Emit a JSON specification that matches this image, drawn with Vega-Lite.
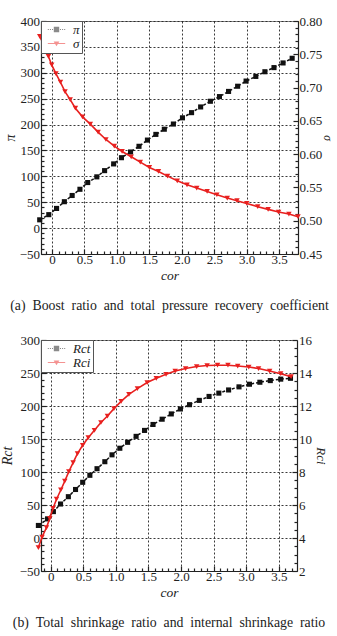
{
  "$schema": "https://vega.github.io/schema/vega-lite/v6.json",
  "background": "white",
  "padding": {"left": 0, "top": 14, "right": 0, "bottom": 2},
  "spacing": 20,
  "resolve": {"scale": {"color": "independent", "shape": "independent"}},
  "config": {
    "font": "Liberation Serif",
    "view": {"stroke": "#8a8a8a", "strokeWidth": 1},
    "axis": {
      "labelFont": "Liberation Serif", "labelFontSize": 13, "labelColor": "#222",
      "titleFont": "Liberation Serif", "titleFontSize": 14, "titleFontStyle": "italic", "titleFontWeight": "normal", "titleColor": "#222",
      "domainColor": "#222", "domainWidth": 1.2, "tickColor": "#222", "tickWidth": 1.2,
      "gridColor": "#222", "gridDash": [2, 2], "gridWidth": 0.9,
      "labelPadding": 6.5, "titlePadding": 2, "labelOverlap": false, "labelFlush": false
    },
    "title": {"font": "Liberation Serif", "fontSize": 13.8, "fontWeight": "normal", "color": "#222", "orient": "bottom", "anchor": "middle", "offset": 16.5}
  },
  "datasets": {
    "a": [
      {"s": "π", "x": -0.19, "v": 16}, {"s": "π", "x": -0.05, "v": 26}, {"s": "π", "x": 0.07, "v": 38}, {"s": "π", "x": 0.19, "v": 51},
      {"s": "π", "x": 0.31, "v": 63}, {"s": "π", "x": 0.43, "v": 75}, {"s": "π", "x": 0.55, "v": 88}, {"s": "π", "x": 0.69, "v": 99},
      {"s": "π", "x": 0.81, "v": 111}, {"s": "π", "x": 0.95, "v": 124}, {"s": "π", "x": 1.07, "v": 136}, {"s": "π", "x": 1.21, "v": 147},
      {"s": "π", "x": 1.34, "v": 158}, {"s": "π", "x": 1.47, "v": 170}, {"s": "π", "x": 1.6, "v": 181}, {"s": "π", "x": 1.73, "v": 191},
      {"s": "π", "x": 1.87, "v": 201}, {"s": "π", "x": 2.01, "v": 213}, {"s": "π", "x": 2.15, "v": 223}, {"s": "π", "x": 2.29, "v": 234},
      {"s": "π", "x": 2.44, "v": 245}, {"s": "π", "x": 2.58, "v": 254}, {"s": "π", "x": 2.72, "v": 264}, {"s": "π", "x": 2.86, "v": 274},
      {"s": "π", "x": 2.99, "v": 284}, {"s": "π", "x": 3.14, "v": 293}, {"s": "π", "x": 3.28, "v": 302}, {"s": "π", "x": 3.42, "v": 310},
      {"s": "π", "x": 3.56, "v": 319}, {"s": "π", "x": 3.7, "v": 328},
      {"s": "σ", "x": -0.19, "v": 0.777}, {"s": "σ", "x": -0.12, "v": 0.763}, {"s": "σ", "x": -0.056, "v": 0.747}, {"s": "σ", "x": -0.005, "v": 0.734},
      {"s": "σ", "x": 0.06, "v": 0.721}, {"s": "σ", "x": 0.13, "v": 0.708}, {"s": "σ", "x": 0.2, "v": 0.694}, {"s": "σ", "x": 0.28, "v": 0.682},
      {"s": "σ", "x": 0.36, "v": 0.669}, {"s": "σ", "x": 0.47, "v": 0.656}, {"s": "σ", "x": 0.59, "v": 0.645}, {"s": "σ", "x": 0.71, "v": 0.633},
      {"s": "σ", "x": 0.83, "v": 0.622}, {"s": "σ", "x": 0.96, "v": 0.612}, {"s": "σ", "x": 1.08, "v": 0.604}, {"s": "σ", "x": 1.22, "v": 0.596},
      {"s": "σ", "x": 1.36, "v": 0.588}, {"s": "σ", "x": 1.5, "v": 0.58}, {"s": "σ", "x": 1.64, "v": 0.574}, {"s": "σ", "x": 1.78, "v": 0.567},
      {"s": "σ", "x": 1.93, "v": 0.56}, {"s": "σ", "x": 2.08, "v": 0.554}, {"s": "σ", "x": 2.23, "v": 0.549}, {"s": "σ", "x": 2.39, "v": 0.544},
      {"s": "σ", "x": 2.54, "v": 0.539}, {"s": "σ", "x": 2.7, "v": 0.534}, {"s": "σ", "x": 2.85, "v": 0.53}, {"s": "σ", "x": 3.0, "v": 0.526},
      {"s": "σ", "x": 3.17, "v": 0.521}, {"s": "σ", "x": 3.33, "v": 0.517}, {"s": "σ", "x": 3.49, "v": 0.513}, {"s": "σ", "x": 3.65, "v": 0.51},
      {"s": "σ", "x": 3.79, "v": 0.506}
    ],
    "b": [
      {"s": "Rct", "x": -0.19, "v": 19}, {"s": "Rct", "x": -0.05, "v": 29}, {"s": "Rct", "x": 0.04, "v": 40}, {"s": "Rct", "x": 0.15, "v": 51.5},
      {"s": "Rct", "x": 0.27, "v": 62.6}, {"s": "Rct", "x": 0.38, "v": 73.5}, {"s": "Rct", "x": 0.49, "v": 84.4}, {"s": "Rct", "x": 0.6, "v": 95},
      {"s": "Rct", "x": 0.71, "v": 105}, {"s": "Rct", "x": 0.83, "v": 115.6}, {"s": "Rct", "x": 0.94, "v": 126}, {"s": "Rct", "x": 1.06, "v": 136},
      {"s": "Rct", "x": 1.18, "v": 145}, {"s": "Rct", "x": 1.31, "v": 154}, {"s": "Rct", "x": 1.44, "v": 163}, {"s": "Rct", "x": 1.57, "v": 172},
      {"s": "Rct", "x": 1.71, "v": 180}, {"s": "Rct", "x": 1.85, "v": 188}, {"s": "Rct", "x": 1.99, "v": 195.5}, {"s": "Rct", "x": 2.13, "v": 202},
      {"s": "Rct", "x": 2.28, "v": 208.5}, {"s": "Rct", "x": 2.43, "v": 214.5}, {"s": "Rct", "x": 2.58, "v": 219.5}, {"s": "Rct", "x": 2.73, "v": 224.3},
      {"s": "Rct", "x": 2.89, "v": 229}, {"s": "Rct", "x": 3.05, "v": 233}, {"s": "Rct", "x": 3.21, "v": 236}, {"s": "Rct", "x": 3.37, "v": 238.5},
      {"s": "Rct", "x": 3.53, "v": 240.7}, {"s": "Rct", "x": 3.68, "v": 242},
      {"s": "Rci", "x": -0.19, "v": 3.42}, {"s": "Rci", "x": -0.134, "v": 4.06}, {"s": "Rci", "x": -0.066, "v": 4.63}, {"s": "Rci", "x": -0.015, "v": 5.19},
      {"s": "Rci", "x": 0.035, "v": 5.8}, {"s": "Rci", "x": 0.088, "v": 6.35}, {"s": "Rci", "x": 0.154, "v": 6.91}, {"s": "Rci", "x": 0.215, "v": 7.45},
      {"s": "Rci", "x": 0.277, "v": 8.02}, {"s": "Rci", "x": 0.343, "v": 8.57}, {"s": "Rci", "x": 0.41, "v": 9.12}, {"s": "Rci", "x": 0.49, "v": 9.62},
      {"s": "Rci", "x": 0.575, "v": 10.08}, {"s": "Rci", "x": 0.67, "v": 10.53}, {"s": "Rci", "x": 0.77, "v": 11.0}, {"s": "Rci", "x": 0.87, "v": 11.39},
      {"s": "Rci", "x": 0.97, "v": 11.84}, {"s": "Rci", "x": 1.08, "v": 12.28}, {"s": "Rci", "x": 1.2, "v": 12.7}, {"s": "Rci", "x": 1.33, "v": 13.05},
      {"s": "Rci", "x": 1.48, "v": 13.42}, {"s": "Rci", "x": 1.62, "v": 13.68}, {"s": "Rci", "x": 1.77, "v": 13.92}, {"s": "Rci", "x": 1.91, "v": 14.12},
      {"s": "Rci", "x": 2.07, "v": 14.27}, {"s": "Rci", "x": 2.24, "v": 14.39}, {"s": "Rci", "x": 2.4, "v": 14.45}, {"s": "Rci", "x": 2.56, "v": 14.47},
      {"s": "Rci", "x": 2.72, "v": 14.47}, {"s": "Rci", "x": 2.87, "v": 14.42}, {"s": "Rci", "x": 3.04, "v": 14.36}, {"s": "Rci", "x": 3.19, "v": 14.27},
      {"s": "Rci", "x": 3.36, "v": 14.12}, {"s": "Rci", "x": 3.53, "v": 13.96}, {"s": "Rci", "x": 3.69, "v": 13.78}
    ]
  },
  "vconcat": [
    {
      "width": 257, "height": 233,
      "title": {"text": "(a)\u2002Boost\u2002ratio\u2002and\u2002total\u2002pressure\u2002recovery\u2002coefficient"},
      "data": {"name": "a"},
      "encoding": {
        "x": {"field": "x", "type": "quantitative", "scale": {"domain": [-0.17, 3.79], "nice": false, "zero": false},
          "axis": {"title": "cor", "titleFontSize": 13.5, "titlePadding": 0, "labelPadding": 4.5,
            "values": [-0.1,0,0.1,0.2,0.3,0.4,0.5,0.6,0.7,0.8,0.9,1,1.1,1.2,1.3,1.4,1.5,1.6,1.7,1.8,1.9,2,2.1,2.2,2.3,2.4,2.5,2.6,2.7,2.8,2.9,3,3.1,3.2,3.3,3.4,3.5,3.6,3.7],
            "labelExpr": "round(datum.value*10)%5===0 ? (datum.value===0 ? '0' : format(datum.value,'.1f')) : ''",
            "tickSize": {"condition": {"test": "round(datum.value*10)%5===0", "value": -5}, "value": -3},
            "gridOpacity": {"condition": {"test": "round(datum.value*10)%5===0", "value": 1}, "value": 0}}}
      },
      "layer": [
        {
          "transform": [{"filter": "datum.s === 'π'"}],
          "encoding": {
            "y": {"field": "v", "type": "quantitative", "scale": {"domain": [-50, 400], "nice": false, "zero": false},
              "axis": {"title": "π", "orient": "left",
                "values": [-50,-40,-30,-20,-10,0,10,20,30,40,50,60,70,80,90,100,110,120,130,140,150,160,170,180,190,200,210,220,230,240,250,260,270,280,290,300,310,320,330,340,350,360,370,380,390,400],
                "labelExpr": "datum.value%50===0 ? format(datum.value,'d') : ''",
                "tickSize": {"condition": {"test": "datum.value%50===0", "value": -5}, "value": -3},
                "gridOpacity": {"condition": {"test": "datum.value%50===0", "value": 1}, "value": 0}}}
          },
          "layer": [
            {"mark": {"type": "line", "color": "#111", "strokeWidth": 1.5, "strokeDash": [3, 2]}},
            {"mark": {"type": "point", "shape": "square", "filled": true, "color": "#111", "size": 26, "opacity": 1}}
          ]
        },
        {
          "transform": [{"filter": "datum.s === 'σ'"}],
          "encoding": {
            "y": {"field": "v", "type": "quantitative", "scale": {"domain": [0.45, 0.8], "nice": false, "zero": false},
              "axis": {"title": "σ", "orient": "right", "grid": false, "titleFontSize": 11.5, "titlePadding": 0, "labelPadding": 6,
                "values": [0.45,0.46,0.47,0.48,0.49,0.5,0.51,0.52,0.53,0.54,0.55,0.56,0.57,0.58,0.59,0.6,0.61,0.62,0.63,0.64,0.65,0.66,0.67,0.68,0.69,0.7,0.71,0.72,0.73,0.74,0.75,0.76,0.77,0.78,0.79,0.8],
                "labelExpr": "round(datum.value*100)%5===0 ? format(datum.value,'.2f') : ''",
                "tickSize": {"condition": {"test": "round(datum.value*100)%5===0", "value": -5}, "value": -3}}}
          },
          "layer": [
            {"mark": {"type": "line", "color": "#e8201f", "strokeWidth": 1.6}},
            {"mark": {"type": "point", "shape": "triangle-down", "filled": true, "color": "#e8201f", "size": 30, "opacity": 1}}
          ]
        },
        {
          "transform": [{"filter": "datum.x > 100"}],
          "mark": {"type": "point", "filled": true},
          "encoding": {
            "color": {"field": "s", "type": "nominal", "scale": {"domain": ["π", "σ"], "range": ["#111", "#e8201f"]},
              "legend": {"title": null, "orient": "top-left", "offset": 0, "padding": 2, "strokeColor": "#555", "fillColor": "white",
                "symbolSize": 36, "symbolStrokeWidth": 0, "symbolOpacity": 1, "symbolOffset": 7, "labelOffset": 10,
                "labelFont": "Liberation Serif", "labelFontSize": 13, "labelFontStyle": "italic", "labelColor": "#222", "rowPadding": -2}},
            "shape": {"field": "s", "type": "nominal", "scale": {"domain": ["π", "σ"], "range": [
              "M-0.9,-0.9H0.9V0.9H-0.9Z M-2.9,-0.17H-2.55V0.17H-2.9Z M-2.2,-0.17H-1.85V0.17H-2.2Z M-1.5,-0.17H-1.15V0.17H-1.5Z M1.15,-0.17H1.5V0.17H1.15Z M1.85,-0.17H2.2V0.17H1.85Z M2.55,-0.17H2.9V0.17H2.55Z",
              "M-2.9,-0.15H2.9V0.15H-2.9Z M-0.95,-0.7H0.95L0,0.95Z"]}}
          }
        }
      ],
      "resolve": {"scale": {"y": "independent"}}
    },
    {
      "width": 256, "height": 231,
      "title": {"text": "(b)\u2002Total\u2002shrinkage\u2002ratio\u2002and\u2002internal\u2002shrinkage\u2002ratio"},
      "data": {"name": "b"},
      "encoding": {
        "x": {"field": "x", "type": "quantitative", "scale": {"domain": [-0.15, 3.78], "nice": false, "zero": false},
          "axis": {"title": "cor", "titleFontSize": 13.5, "titlePadding": 0, "labelPadding": 4.5,
            "values": [-0.1,0,0.1,0.2,0.3,0.4,0.5,0.6,0.7,0.8,0.9,1,1.1,1.2,1.3,1.4,1.5,1.6,1.7,1.8,1.9,2,2.1,2.2,2.3,2.4,2.5,2.6,2.7,2.8,2.9,3,3.1,3.2,3.3,3.4,3.5,3.6,3.7],
            "labelExpr": "round(datum.value*10)%5===0 ? (datum.value===0 ? '0' : format(datum.value,'.1f')) : ''",
            "tickSize": {"condition": {"test": "round(datum.value*10)%5===0", "value": -5}, "value": -3},
            "gridOpacity": {"condition": {"test": "round(datum.value*10)%5===0", "value": 1}, "value": 0}}}
      },
      "layer": [
        {
          "transform": [{"filter": "datum.s === 'Rct'"}],
          "encoding": {
            "y": {"field": "v", "type": "quantitative", "scale": {"domain": [-50, 300], "nice": false, "zero": false},
              "axis": {"title": "Rct", "orient": "left", "titlePadding": 4.5,
                "values": [-50,-40,-30,-20,-10,0,10,20,30,40,50,60,70,80,90,100,110,120,130,140,150,160,170,180,190,200,210,220,230,240,250,260,270,280,290,300],
                "labelExpr": "datum.value%50===0 ? format(datum.value,'d') : ''",
                "tickSize": {"condition": {"test": "datum.value%50===0", "value": -5}, "value": -3},
                "gridOpacity": {"condition": {"test": "datum.value%50===0", "value": 1}, "value": 0}}}
          },
          "layer": [
            {"mark": {"type": "line", "color": "#111", "strokeWidth": 1.5, "strokeDash": [3, 2]}},
            {"mark": {"type": "point", "shape": "square", "filled": true, "color": "#111", "size": 26, "opacity": 1}}
          ]
        },
        {
          "transform": [{"filter": "datum.s === 'Rci'"}],
          "encoding": {
            "y": {"field": "v", "type": "quantitative", "scale": {"domain": [2, 16], "nice": false, "zero": false},
              "axis": {"title": "Rci", "orient": "right", "grid": false, "titleFontSize": 13, "titlePadding": 2,
                "values": [2,2.5,3,3.5,4,4.5,5,5.5,6,6.5,7,7.5,8,8.5,9,9.5,10,10.5,11,11.5,12,12.5,13,13.5,14,14.5,15,15.5,16],
                "labelExpr": "datum.value%2===0 ? format(datum.value,'d') : ''",
                "tickSize": {"condition": {"test": "datum.value%2===0", "value": -5}, "value": -3}}}
          },
          "layer": [
            {"mark": {"type": "line", "color": "#e8201f", "strokeWidth": 1.6}},
            {"mark": {"type": "point", "shape": "triangle-down", "filled": true, "color": "#e8201f", "size": 30, "opacity": 1}}
          ]
        },
        {
          "transform": [{"filter": "datum.x > 100"}],
          "mark": {"type": "point", "filled": true},
          "encoding": {
            "color": {"field": "s", "type": "nominal", "scale": {"domain": ["Rct", "Rci"], "range": ["#111", "#e8201f"]},
              "legend": {"title": null, "orient": "top-left", "offset": 0, "padding": 2, "strokeColor": "#555", "fillColor": "white",
                "symbolSize": 36, "symbolStrokeWidth": 0, "symbolOpacity": 1, "symbolOffset": 7, "labelOffset": 10,
                "labelFont": "Liberation Serif", "labelFontSize": 13, "labelFontStyle": "italic", "labelColor": "#222", "rowPadding": 0}},
            "shape": {"field": "s", "type": "nominal", "scale": {"domain": ["Rct", "Rci"], "range": [
              "M-0.9,-0.9H0.9V0.9H-0.9Z M-2.9,-0.17H-2.55V0.17H-2.9Z M-2.2,-0.17H-1.85V0.17H-2.2Z M-1.5,-0.17H-1.15V0.17H-1.5Z M1.15,-0.17H1.5V0.17H1.15Z M1.85,-0.17H2.2V0.17H1.85Z M2.55,-0.17H2.9V0.17H2.55Z",
              "M-2.9,-0.15H2.9V0.15H-2.9Z M-0.95,-0.7H0.95L0,0.95Z"]}}
          }
        }
      ],
      "resolve": {"scale": {"y": "independent"}}
    }
  ]
}
